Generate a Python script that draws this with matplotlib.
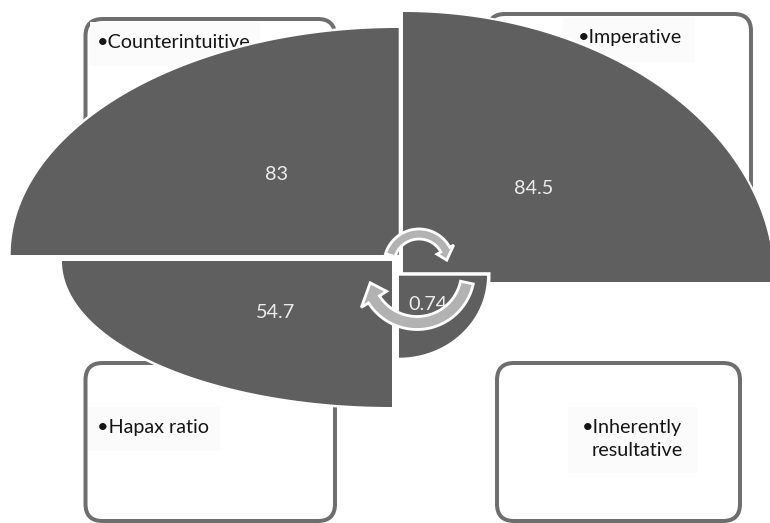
import matplotlib
matplotlib.use("Agg")
import matplotlib.pyplot as plt
import numpy as np
from matplotlib.patches import FancyBboxPatch, Polygon, Rectangle

# Diagram data
VALUE_LABELS = ["83", "84.5", "54.7", "0.74"]
CAPTIONS = ["Counterintuitive", "Imperative", "Hapax ratio", "Inherently\nresultative"]

WEDGE_COLOR = "#5f5f5f"
BOX_COLOR = "#6e6e6e"
ARROW_COLOR = "#b2b2b2"
PX = 72 / 100  # one pixel in points

plt.rcParams["font.family"] = ["Lato", "DejaVu Sans"]

fig = plt.figure(figsize=(7.7, 5.23), dpi=100)
ax = fig.add_axes([0, 0, 1, 1])
ax.set_xlim(0, 770)
ax.set_ylim(523, 0)
ax.axis("off")


def rounded_box(x0, y0, x1, y1):
    ax.add_patch(FancyBboxPatch(
        (x0, y0), x1 - x0, y1 - y0,
        boxstyle="round,pad=0,rounding_size=17",
        fc="white", ec=BOX_COLOR, lw=4 * PX, zorder=1,
    ))


def quarter(cx, cy, rx, ry, a0, a1, halo):
    # quarter ellipse with a white halo drawn under the fill
    t = np.radians(np.linspace(a0, a1, 200))
    pts = np.column_stack([cx + rx * np.cos(t), cy - ry * np.sin(t)])
    pts = np.vstack([[cx, cy], pts])
    ax.add_patch(Polygon(pts, closed=True, fc="white", ec="white", lw=halo * PX, joinstyle="miter", zorder=2))
    ax.add_patch(Polygon(pts, closed=True, fc=WEDGE_COLOR, ec="none", zorder=2))


def curved_arrow(cx, cy, r, hw, a0, a_base, a_tip, r_tip, head_hw):
    t = np.radians(np.linspace(a0, a_base, 60))
    outer = np.column_stack([cx + (r + hw) * np.cos(t), cy - (r + hw) * np.sin(t)])
    inner = np.column_stack([cx + (r - hw) * np.cos(t), cy - (r - hw) * np.sin(t)])[::-1]
    b = np.radians(a_base)
    tip = np.radians(a_tip)
    head = [
        [cx + (r + head_hw) * np.cos(b), cy - (r + head_hw) * np.sin(b)],
        [cx + r_tip * np.cos(tip), cy - r_tip * np.sin(tip)],
        [cx + (r - head_hw) * np.cos(b), cy - (r - head_hw) * np.sin(b)],
    ]
    pts = np.vstack([outer, head, inner])
    ax.add_patch(Polygon(pts, closed=True, fc=ARROW_COLOR, ec="white", lw=2.8 * PX, joinstyle="miter", zorder=5))


# outlined boxes behind the wedges
rounded_box(85.5, 19, 335, 220)
rounded_box(488, 14, 751, 270)
rounded_box(85.5, 363, 335, 521)
rounded_box(497, 363, 740, 521)

# faint panels under the captions
for x0, y0, x1, y1 in [(90, 22, 260, 66), (563, 18, 695, 62), (88, 407, 220, 451), (568, 407, 698, 473)]:
    ax.add_patch(Rectangle((x0, y0), x1 - x0, y1 - y0, fc="#fbfbfb", ec="none", zorder=1.5))

caption_pos = [(97, 42), (578, 38), (97, 428), (582, 428)]
for (x, y), cap in zip(caption_pos, CAPTIONS):
    first, *rest = cap.split("\n")
    ax.text(x, y, "\u2022" + first, fontsize=14.2, color="#151515", va="center", ha="left", zorder=1.6)
    for i, line in enumerate(rest):
        ax.text(x + 10, y + 23, line, fontsize=14.2, color="#151515", va="center", ha="left", zorder=1.6)

# wedges, back to front
quarter(403, 282, 371, 270, 0, 90, 4)
quarter(398.7, 255, 388, 227, 90, 180, 5)
quarter(392, 261, 330, 146, 180, 270, 5)
quarter(399, 275.7, 88, 82, 270, 360, 7)

label_pos = [(276, 174), (534, 188), (276, 312), (428, 304)]
for (x, y), lab in zip(label_pos, VALUE_LABELS):
    ax.text(x, y, lab, fontsize=14.3, color="#ececec", ha="center", va="center", zorder=3)

curved_arrow(419, 264, 30, 5, 163, 28.6, 8, 28, 9.5)
curved_arrow(417, 272, 51, 6.5, -12, -147.5, -167, 48, 15)

fig.savefig("out.png", dpi=100)
